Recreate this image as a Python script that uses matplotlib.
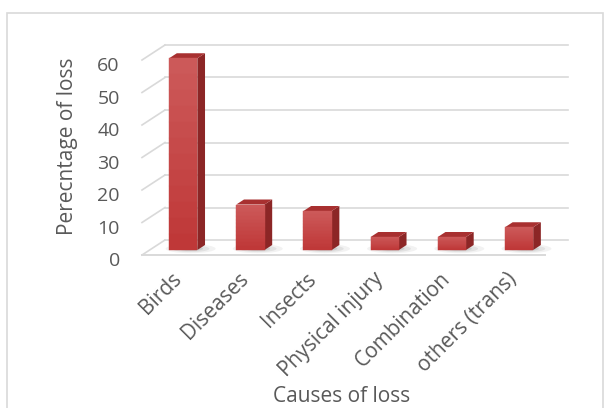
import matplotlib
matplotlib.use("Agg")
import matplotlib.pyplot as plt
from matplotlib.patches import Polygon, Rectangle, Ellipse
from matplotlib.lines import Line2D
from matplotlib.transforms import IdentityTransform, ScaledTranslation
import numpy as np

categories = ["Birds", "Diseases", "Insects", "Physical injury", "Combination", "others (trans)"]
values = [59, 14, 12, 4, 4, 7]
yticks = [0, 10, 20, 30, 40, 50, 60]
ylabel = "Perecntage of loss"
xlabel = "Causes of loss"

W, H, DPI = 611, 408, 100
plt.rcParams['font.family'] = ['Open Sans', 'DejaVu Sans']
TXT = '#595959'
GRID = '#d9d9d9'

fig = plt.figure(figsize=(W / DPI, H / DPI), dpi=DPI)
fig.patch.set_facecolor('white')

# front plane of the 3D box
left_px, right_px, zero_px, top_px = 142, 545, 255, 60
ax = fig.add_axes([left_px / W, (H - zero_px) / H, (right_px - left_px) / W, (zero_px - top_px) / H])
ax.set_xlim(-0.5, len(categories) - 0.5)
ax.set_ylim(0, 60)
ax.patch.set_visible(False)
for s in ax.spines.values():
    s.set_visible(False)

D = np.array([23.0, 15.0])  # depth vector in pixels (x right, y up)

def P(x, y, f):
    return ax.transData.transform((x, y)) + f * D

def poly(pts, **kw):
    p = Polygon(np.array(pts), closed=True, transform=IdentityTransform(), clip_on=False, **kw)
    ax.add_artist(p)
    return p

def line(a, b, **kw):
    ax.add_artist(Line2D([a[0], b[0]], [a[1], b[1]], transform=IdentityTransform(),
                         clip_on=False, **kw))

x0, x1 = -0.5, len(categories) - 0.5
# walls / gridlines
for v in yticks:
    line(P(x0, v, 0), P(x0, v, 1), color=GRID, lw=1.2, zorder=1)
    line(P(x0, v, 1), P(x1, v, 1), color=GRID, lw=1.2, zorder=1)
# floor front edge
line(P(x0, 0, 0), P(x1, 0, 0), color=GRID, lw=1.4, zorder=1)

# bars
w = 0.42
for i, v in enumerate(values):
    xl, xr = i - w / 2, i + w / 2
    # soft shadow on the floor
    c = P(i + 0.08, 0, 0.42)
    for k, a in zip([1.0, 0.75, 0.5], [0.10, 0.15, 0.22]):
        e = Ellipse(c, 50 * k, 9 * k, transform=IdentityTransform(), color='#808080', alpha=a,
                    lw=0, clip_on=False, zorder=2)
        ax.add_artist(e)
    f1, f2 = 1 / 3, 2 / 3
    # side face
    poly([P(xr, 0, f1), P(xr, v, f1), P(xr, v, f2), P(xr, 0, f2)], facecolor='#8c2626',
         edgecolor='none', zorder=3)
    # top face
    poly([P(xl, v, f1), P(xr, v, f1), P(xr, v, f2), P(xl, v, f2)], facecolor='#a83030',
         edgecolor='none', zorder=3)
    # front face with vertical gradient
    n = 12
    cols = np.linspace([0.80, 0.35, 0.35], [0.75, 0.22, 0.22], n)
    for k in range(n):
        ya, yb = v * (1 - k / n), v * (1 - (k + 1) / n)
        poly([P(xl, yb, f1), P(xr, yb, f1), P(xr, ya, f1), P(xl, ya, f1)],
             facecolor=cols[k], edgecolor=cols[k], lw=0.3, zorder=4)

# ticks
ax.set_yticks(yticks)
ax.set_yticklabels([str(t) for t in yticks], color=TXT, fontsize=14)
ax.tick_params(axis='y', length=0, pad=16)
for lab in ax.get_yticklabels():
    lab.set_transform(lab.get_transform() + ScaledTranslation(0, -3 / 72, fig.dpi_scale_trans))

ax.set_xticks(range(len(categories)))
ax.set_xticklabels(categories, rotation=45, ha='right', va='center', rotation_mode='anchor',
                   color=TXT, fontsize=15)
ax.tick_params(axis='x', length=0, pad=15)
for lab in ax.get_xticklabels():
    lab.set_transform(lab.get_transform() + ScaledTranslation(2 / 72, 0, fig.dpi_scale_trans))

fig.text(68 / W, 1 - 146 / H, ylabel, rotation=90, ha='center', va='center', color=TXT, fontsize=15)
fig.text(342 / W, 1 - 396 / H, xlabel, ha='center', va='center', color=TXT, fontsize=15)

# chart border
fig.add_artist(Rectangle((7 / W, -0.05), (603 - 7) / W, 1.05 - 13 / H, transform=fig.transFigure,
                         fill=False, edgecolor=GRID, lw=1.2))

fig.savefig("out.png", dpi=DPI, facecolor='white')
